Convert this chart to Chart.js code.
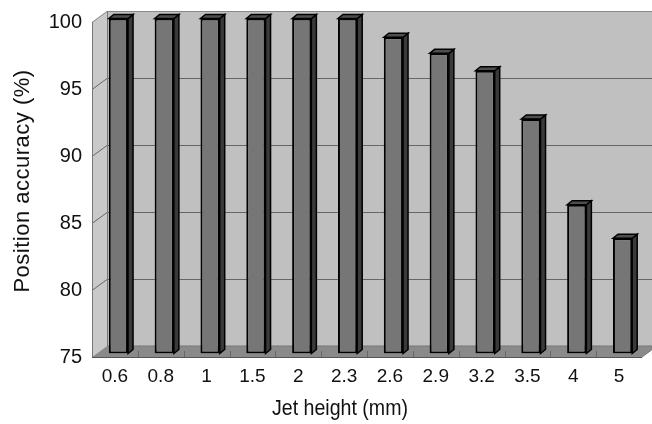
<!DOCTYPE html>
<html>
<head>
<meta charset="utf-8">
<script src="https://cdn.jsdelivr.net/npm/chart.js@4"></script>
<style>
  body { margin: 0; background: #fff; }
  canvas { display: block; }
</style>
</head>
<body>
<canvas id="chart" width="652" height="424"></canvas>
<script>
// jet height vs. position accuracy
const heights = ["0.6", "0.8", "1", "1.5", "2", "2.3", "2.6", "2.9", "3.2", "3.5", "4", "5"]
const accuracy = [100, 100, 100, 100, 100, 100, 98.6, 97.4, 96.1, 92.5, 86.1, 83.6]
const yMin = 75
const yMax = 100
const yStep = 5

// fake 3d: depth of the box and of each bar
const depth = { x: 15, y: -11 }
const barShift = { x: 3.5, y: -3.5 }
const barDepth = { x: 5, y: -4 }

function poly(ctx, pts, fill, stroke, lw) {
  ctx.beginPath()
  ctx.moveTo(pts[0][0], pts[0][1])
  for (let i = 1; i < pts.length; i++) ctx.lineTo(pts[i][0], pts[i][1])
  ctx.closePath()
  if (fill) {
    ctx.fillStyle = fill
    ctx.fill()
  }
  if (stroke) {
    ctx.strokeStyle = stroke
    ctx.lineWidth = lw || 1
    ctx.stroke()
  }
}

function line(ctx, x1, y1, x2, y2, color) {
  ctx.beginPath()
  ctx.moveTo(x1, y1)
  ctx.lineTo(x2, y2)
  ctx.strokeStyle = color
  ctx.lineWidth = 1
  ctx.stroke()
}

const box3d = {
  id: "box3d",
  beforeDraw(chart) {
    const ctx = chart.ctx
    const a = chart.chartArea
    const y = chart.scales.y
    const dx = depth.x
    const dy = depth.y
    ctx.save()
    ctx.fillStyle = "#fff"
    ctx.fillRect(0, 0, chart.width, chart.height)

    // back wall
    poly(ctx, [[a.left + dx, a.top + dy], [chart.width, a.top + dy], [chart.width, a.bottom + dy], [a.left + dx, a.bottom + dy]], "#c0c0c0")
    // left wall
    poly(ctx, [[a.left, a.top], [a.left + dx, a.top + dy], [a.left + dx, a.bottom + dy], [a.left, a.bottom]], "#c9c9c9")
    // floor
    poly(ctx, [[a.left, a.bottom], [a.left + dx, a.bottom + dy], [a.right + dx, a.bottom + dy], [a.right, a.bottom]], "#8a8a8a")

    // gridlines on the walls
    for (let v = yMin + yStep; v < yMax; v += yStep) {
      const py = Math.round(y.getPixelForValue(v)) + 0.5
      line(ctx, a.left, py, a.left + dx, py + dy, "#666")
      line(ctx, a.left + dx, py + dy, chart.width, py + dy, "#666")
    }

    // edges
    const top = Math.round(a.top) + 0.5
    line(ctx, a.left + dx, top + dy, chart.width, top + dy, "#888")
    line(ctx, a.left, top, a.left + dx, top + dy, "#888")
    line(ctx, a.left + dx + 0.5, a.top + dy, a.left + dx + 0.5, a.bottom + dy, "#777")
    line(ctx, a.left + 0.5, a.top, a.left + 0.5, a.bottom, "#777")
    line(ctx, a.left, a.bottom + 0.5, a.right, a.bottom + 0.5, "#555")
    line(ctx, a.left + dx, a.bottom + dy, a.right + dx, a.bottom + dy, "#777")
    line(ctx, a.right, a.bottom, a.right + dx, a.bottom + dy, "#777")

    // category ticks along the front edge of the floor
    const x = chart.scales.x
    for (let i = 1; i < heights.length; i++) {
      const px = Math.round((x.getPixelForValue(i - 1) + x.getPixelForValue(i)) / 2) + 0.5
      line(ctx, px, a.bottom, px, a.bottom - 6, "#666")
    }
    ctx.restore()
  },
  beforeDatasetsDraw(chart) {
    chart.ctx.save()
    chart.ctx.translate(barShift.x, barShift.y)
  },
  afterDatasetsDraw(chart) {
    const ctx = chart.ctx
    const a = chart.chartArea
    const meta = chart.getDatasetMeta(0)
    meta.data.forEach((bar) => {
      const p = bar.getProps(["x", "y", "base", "width"], true)
      const l = p.x - p.width / 2
      const r = p.x + p.width / 2
      const base = Math.min(p.base, a.bottom)
      const bx = barDepth.x
      const by = barDepth.y
      // side face
      poly(ctx, [[r, p.y], [r + bx, p.y + by], [r + bx, base + by], [r, base]], "#3a3a3a", "#000", 1.5)
      // top face
      poly(ctx, [[l, p.y], [l + bx, p.y + by], [r + bx, p.y + by], [r, p.y]], "#4e4e4e", "#000", 1.5)
    })
    ctx.restore()
  },
  afterDraw(chart) {
    const ctx = chart.ctx
    ctx.save()
    ctx.fillStyle = "#111"
    ctx.textAlign = "center"
    ctx.textBaseline = "middle"
    ctx.font = "22px 'Liberation Sans', Arial, sans-serif"
    // x title, a little condensed
    ctx.save()
    ctx.translate(340, 409)
    ctx.scale(0.89, 1)
    ctx.fillText("Jet height (mm)", 0, 0)
    ctx.restore()
    // y title
    ctx.translate(23, 181)
    ctx.rotate(-Math.PI / 2)
    ctx.letterSpacing = "0.5px"
    ctx.fillText("Position accuracy (%)", 0, 0)
    ctx.restore()
  },
}

new Chart(document.querySelector("#chart"), {
  type: "bar",
  data: {
    labels: heights,
    datasets: [
      {
        label: "Position accuracy",
        data: accuracy,
        base: yMin,
        backgroundColor: "#767676",
        borderColor: "#000",
        borderWidth: 2,
        borderSkipped: false,
        categoryPercentage: 1,
        barPercentage: 0.42,
      },
    ],
  },
  options: {
    responsive: false,
    animation: false,
    devicePixelRatio: 1,
    layout: { padding: { top: 21, right: 10, left: 0, bottom: 0 } },
    plugins: {
      legend: { display: false },
      tooltip: { enabled: false },
    },
    scales: {
      x: {
        grid: { display: false, drawTicks: false },
        border: { display: false },
        ticks: {
          color: "#111",
          padding: 8,
          maxRotation: 0,
          autoSkip: false,
          font: { family: "'Liberation Sans', Arial, sans-serif", size: 19 },
        },
        afterFit(scale) {
          scale.height = 67
        },
      },
      y: {
        min: yMin,
        max: yMax,
        grid: { display: false, drawTicks: false },
        border: { display: false },
        ticks: {
          stepSize: yStep,
          color: "#111",
          padding: 10,
          font: { family: "'Liberation Sans', Arial, sans-serif", size: 20 },
        },
        afterFit(scale) {
          scale.width = 92
        },
      },
    },
  },
  plugins: [box3d],
})
</script>
</body>
</html>
